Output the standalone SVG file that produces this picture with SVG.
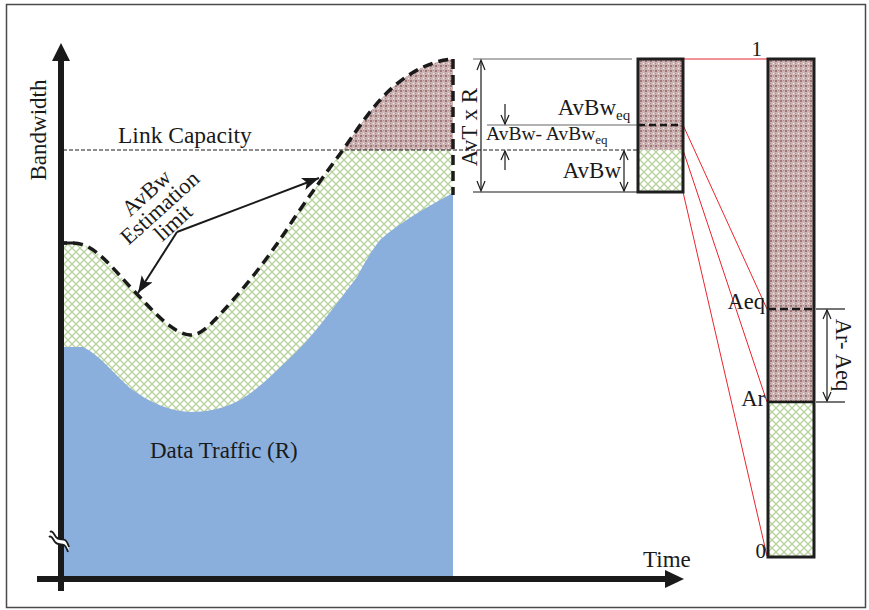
<svg xmlns="http://www.w3.org/2000/svg" width="869" height="610" viewBox="0 0 869 610">
  <defs>
    <style>
      .lbl { font-family: "Liberation Serif", "Times New Roman", serif; fill: #1a1a1a; }
      .thin { stroke: #1a1a1a; stroke-width: 1.2; fill: none; }
      .grey { stroke: #666; stroke-width: 1.2; fill: none; }
      .red { stroke: #e8262e; stroke-width: 1; fill: none; }
      .bar { stroke: #1e1e1e; stroke-width: 3; fill: none; }
      .dash { stroke: #1a1a1a; stroke-width: 3.5; stroke-dasharray: 10 6; fill: none; }
    </style>
    <!-- light green lattice for the estimated headroom -->
    <pattern id="hatchGreen" width="8" height="8" patternUnits="userSpaceOnUse">
      <rect width="8" height="8" fill="#ffffff"/>
      <path d="M0,0 L8,8 M8,0 L0,8" stroke="#b7d29b" stroke-width="1.3"/>
    </pattern>
    <!-- dense brown screen for the over-estimated part -->
    <pattern id="hatchBrown" width="5" height="5" patternUnits="userSpaceOnUse">
      <rect width="5" height="5" fill="#ccb4b4"/>
      <rect x="0" y="0" width="2" height="2" fill="#9e7474"/>
      <rect x="0" y="3" width="1" height="1" fill="#b08888"/>
      <rect x="3" y="0" width="1" height="1" fill="#b08888"/>
      <rect x="3" y="3" width="1.2" height="1.2" fill="#f6eeee"/>
    </pattern>
    <clipPath id="aboveCap"><rect x="0" y="0" width="869" height="150"/></clipPath>
    <clipPath id="belowCap"><rect x="0" y="150" width="869" height="460"/></clipPath>
    <marker id="headFill" markerUnits="userSpaceOnUse" markerWidth="20" markerHeight="14" refX="17" refY="6.5" orient="auto">
      <path d="M0,0 L17,6.5 L0,13 L4,6.5 Z" fill="#1a1a1a"/>
    </marker>
  </defs>

  <rect width="869" height="610" fill="#ffffff"/>
  <rect x="6.5" y="4.5" width="859" height="603" fill="none" stroke="#4a4a4a" stroke-width="1.5"/>

  <!-- bandwidth chart areas -->
  <g id="areas">
    <path id="underLimit" d="M63,243 L73,243 C95,243 112,268 135,292 C155,313 172,333 190,335 C202,336 215,320 233,300 C255,275 275,248 293,220 C310,195 328,170 343,150 C360,125 375,103 392,88 C410,72 430,61 453,59 L453,579 L63,579 Z" fill="url(#hatchGreen)" clip-path="url(#belowCap)"/>
    <path d="M63,243 L73,243 C95,243 112,268 135,292 C155,313 172,333 190,335 C202,336 215,320 233,300 C255,275 275,248 293,220 C310,195 328,170 343,150 C360,125 375,103 392,88 C410,72 430,61 453,59 L453,579 L63,579 Z" fill="url(#hatchBrown)" clip-path="url(#aboveCap)"/>
    <path id="traffic" d="M63,347 L83,347 C100,355 115,375 130,388 C150,403 170,411 190,412 C210,412 225,408 240,400 C260,388 275,372 290,358 C310,340 330,312 357,277 C365,262 372,250 380,240 C400,222 430,205 453,193 L453,579 L63,579 Z" fill="#8aafdc"/>
  </g>

  <!-- link capacity -->
  <g id="linkCapacity">
    <line x1="63" y1="150" x2="637" y2="150" stroke="#1a1a1a" stroke-width="1" stroke-dasharray="4 2"/>
    <text class="lbl" x="118" y="143" font-size="23.5">Link Capacity</text>
  </g>

  <!-- estimation limit curve -->
  <g id="estimationLimit">
    <path class="dash" d="M63,243 L73,243 C95,243 112,268 135,292 C155,313 172,333 190,335 C202,336 215,320 233,300 C255,275 275,248 293,220 C310,195 328,170 343,150 C360,125 375,103 392,88 C410,72 430,61 453,59" stroke-dashoffset="-10"/>
    <line x1="63" y1="243" x2="74" y2="243" stroke="#1a1a1a" stroke-width="3"/>
    <line x1="453" y1="59" x2="453" y2="195" class="dash"/>
  </g>

  <!-- axes -->
  <g id="axes">
    <line x1="61" y1="58" x2="61" y2="591" stroke="#1a1a1a" stroke-width="6"/>
    <path d="M61,43 L70,61 L52,61 Z" fill="#1a1a1a"/>
    <line x1="37" y1="579" x2="666" y2="579" stroke="#1a1a1a" stroke-width="6"/>
    <path d="M684,579 L665,570 L665,588 Z" fill="#1a1a1a"/>
    <!-- axis break -->
    <path d="M50,532 C52,530 54,534 56,537 C58,540 62,539 65,540 C67,541 68,544 69,547 L68,552 C67,549 66,546 64,545 C61,544 57,545 55,542 C53,539 51,535 49,537 Z" fill="#ffffff"/>
    <path d="M50,532 C52,530 54,534 56,537 C58,540 62,539 65,540 C67,541 68,544 69,547" stroke="#1a1a1a" stroke-width="1.8" fill="none"/>
    <path d="M49,537 C51,535 53,539 55,542 C57,545 61,544 64,545 C66,546 67,549 68,552" stroke="#1a1a1a" stroke-width="1.8" fill="none"/>
    <text class="lbl" transform="translate(46,130) rotate(-90)" text-anchor="middle" font-size="23">Bandwidth</text>
    <text class="lbl" x="643" y="567" font-size="23">Time</text>
  </g>

  <g id="trafficLabel">
    <text class="lbl" x="150" y="458" font-size="23">Data Traffic (R)</text>
  </g>

  <!-- annotation of the estimation limit -->
  <g id="limitNote">
    <g transform="translate(160,208) rotate(-42)">
      <text class="lbl" x="0" y="-13" text-anchor="middle" font-size="22.5">AvBw</text>
      <text class="lbl" x="0" y="7" text-anchor="middle" font-size="22.5">Estimation</text>
      <text class="lbl" x="0" y="27" text-anchor="middle" font-size="22.5">limit</text>
    </g>
  </g>
  <g id="connectors">
    <line x1="177" y1="232" x2="319" y2="178" stroke="#1a1a1a" stroke-width="2" marker-end="url(#headFill)"/>
    <line x1="177" y1="232" x2="138" y2="293" stroke="#1a1a1a" stroke-width="2" marker-end="url(#headFill)"/>
    <!-- projection of the small bar onto the normalised scale -->
    <line class="red" x1="683" y1="59" x2="767" y2="59"/>
    <line class="red" x1="683" y1="125" x2="767" y2="309"/>
    <line class="red" x1="683" y1="150" x2="767" y2="402"/>
    <line class="red" x1="683" y1="192" x2="767" y2="556"/>
  </g>

  <!-- dimensions beside the small bar -->
  <g id="dimensions">
    <line class="grey" x1="473" y1="59" x2="632" y2="59"/>
    <line class="grey" x1="487" y1="125" x2="637" y2="125"/>
    <line class="thin" x1="473" y1="192" x2="637" y2="192"/>
    <line class="thin" x1="481" y1="61" x2="481" y2="190"/>
    <path d="M477,70 L481,60 L485,70 M477,181 L481,191 L485,181" class="thin" stroke-width="1.4"/>
    <text class="lbl" transform="translate(477,127) rotate(-90)" text-anchor="middle" font-size="23">AvT x R</text>

    <line class="thin" x1="505" y1="104" x2="505" y2="124"/>
    <path d="M501,115 L505,124 L509,115" class="thin"/>
    <line class="thin" x1="505" y1="170" x2="505" y2="151"/>
    <path d="M501,160 L505,151 L509,160" class="thin"/>

    <line class="thin" x1="624" y1="151" x2="624" y2="191"/>
    <path d="M620,160 L624,151 L628,160 M620,182 L624,191 L628,182" class="thin"/>

    <text class="lbl" x="616" y="115" text-anchor="end" font-size="23">AvBw</text>
    <text class="lbl" x="616" y="120" font-size="15">eq</text>
    <text class="lbl" x="486" y="140" font-size="19.5">AvBw- AvBw<tspan font-size="13" dy="4">eq</tspan></text>
    <text class="lbl" x="621" y="178" text-anchor="end" font-size="23">AvBw</text>
  </g>

  <!-- small bar: measured window -->
  <g id="smallBar">
    <rect x="638" y="59" width="45" height="91" fill="url(#hatchBrown)"/>
    <rect x="638" y="150" width="45" height="42" fill="url(#hatchGreen)"/>
    <line x1="638" y1="125" x2="683" y2="125" stroke="#1a1a1a" stroke-width="2.5" stroke-dasharray="7 4"/>
    <rect class="bar" x="638" y="59" width="45" height="133"/>
  </g>

  <!-- large bar: normalised scale -->
  <g id="scaleBar">
    <rect x="768" y="59" width="46" height="343" fill="url(#hatchBrown)"/>
    <rect x="768" y="402" width="46" height="155" fill="url(#hatchGreen)"/>
    <line x1="768" y1="309" x2="814" y2="309" stroke="#1a1a1a" stroke-width="2.5" stroke-dasharray="8 4"/>
    <line x1="768" y1="402" x2="814" y2="402" stroke="#1a1a1a" stroke-width="2.5"/>
    <rect class="bar" x="768" y="59" width="46" height="498"/>
    <text class="lbl" x="762" y="56" text-anchor="end" font-size="21">1</text>
    <text class="lbl" x="765" y="309" text-anchor="end" font-size="22.5">Aeq</text>
    <text class="lbl" x="765" y="406" text-anchor="end" font-size="22.5">Ar</text>
    <text class="lbl" x="766" y="558" text-anchor="end" font-size="21">0</text>
  </g>

  <g id="arAeq">
    <line class="thin" x1="816" y1="309" x2="845" y2="309"/>
    <line class="thin" x1="816" y1="402" x2="845" y2="402"/>
    <line class="thin" x1="827" y1="310" x2="827" y2="401"/>
    <path d="M823,319 L827,310 L831,319 M823,392 L827,401 L831,392" class="thin"/>
    <text class="lbl" transform="translate(836,355) rotate(90)" text-anchor="middle" font-size="22.5">Ar- Aeq</text>
  </g>
</svg>
